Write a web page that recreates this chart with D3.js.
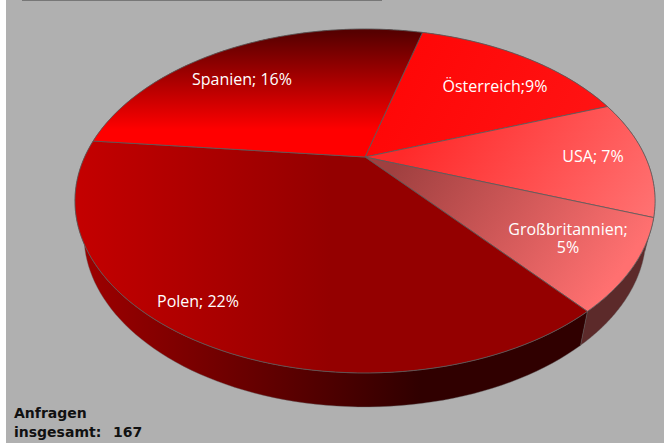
<!DOCTYPE html>
<html>
<head>
<meta charset="utf-8">
<script src="https://cdn.jsdelivr.net/npm/d3@7"></script>
<style>
  html, body { margin: 0; padding: 0; background: #fff; }
</style>
</head>
<body>
<script>
var w = 664,
    h = 443;

var countries = ["Österreich", "USA", "Großbritannien", "Polen", "Spanien"];
var percentLabels = ["9%", "7%", "5%", "22%", "16%"];
var separators = [";", "; ", ";", "; ", "; "];
// slice sizes (the labels are rounded)
var sliceValues = [9.1, 6.6, 5.0, 22.3, 16.3];
var totalLabel = "167";

var apexX = 365, apexY = 157, depth = 34;
var rx = 280.4, ry = 160.7, persp = 0.2558;

// perspective view of a flat circle, angle clockwise from the top
function project(a, shrink, dy) {
  var x = Math.sin(a), y = -Math.cos(a), k = 1 - persp * y;
  return [apexX + shrink * rx * x / k, apexY + dy + ry * y / k];
}

function arcPoints(d, shrink, dy) {
  return d3.range(0, 81).map(function(i) {
    return project(d.startAngle + (d.endAngle - d.startAngle) * i / 80, shrink, dy);
  });
}

var pie = d3.pie().sort(null)
  .startAngle(14.8 * Math.PI / 180)
  .endAngle((360 + 14.8) * Math.PI / 180);
var slices = pie(sliceValues);

var line = d3.line();

var svg = d3.select("body").append("svg")
  .attr("width", w).attr("height", h)
  .style("display", "block");

svg.append("rect").attr("x", 6).attr("y", 0).attr("width", w - 6).attr("height", h).attr("fill", "#b0b0b0");
svg.append("rect").attr("x", 22).attr("y", 0).attr("width", 360).attr("height", 1).attr("fill", "#777");

var defs = svg.append("defs");
function gradient(id, x1, y1, x2, y2, stops) {
  var g = defs.append("linearGradient").attr("id", id)
    .attr("gradientUnits", "userSpaceOnUse")
    .attr("x1", x1).attr("y1", y1).attr("x2", x2).attr("y2", y2);
  stops.forEach(function(s) {
    g.append("stop").attr("offset", s[0]).attr("stop-color", s[1]);
  });
}
gradient("gAt", 365, 30, 600, 150, [[0, "#ff0404"], [1, "#ff1414"]]);
gradient("gUsa", 430, 110, 630, 240, [[0, "#ff2a2a"], [1, "#ff7070"]]);
gradient("gGb", 400, 160, 600, 300, [[0, "#a04040"], [1, "#ff7070"]]);
gradient("gPl", 76, 0, 330, 0, [[0, "#c40000"], [1, "#940000"]]);
gradient("gEs", 0, 32, 0, 130, [[0, "#560000"], [1, "#ff0000"]]);
gradient("gWall", 76, 0, 420, 0, [[0, "#a00000"], [1, "#300000"]]);

var fills = ["url(#gAt)", "url(#gUsa)", "url(#gGb)", "url(#gPl)", "url(#gEs)"];
var wallFills = ["#5c2a2a", "#5c2a2a", "#5c2a2a", "url(#gWall)", "url(#gWall)"];

svg.selectAll("path.wall")
  .data(slices)
  .enter()
  .append("path")
  .attr("class", "wall")
  .attr("d", function(d) {
    return line(arcPoints(d, 1, 0).concat(arcPoints(d, 0.969, depth).reverse())) + "Z";
  })
  .attr("fill", function(d, i) { return wallFills[i]; })
  .attr("stroke", "#666")
  .attr("stroke-width", 0.4);

svg.selectAll("path.top")
  .data(slices)
  .enter()
  .append("path")
  .attr("class", "top")
  .attr("d", function(d) {
    return line([[apexX, apexY]].concat(arcPoints(d, 1, 0))) + "Z";
  })
  .attr("fill", function(d, i) { return fills[i]; })
  .attr("stroke", "#5a5a5a")
  .attr("stroke-width", 0.8);

var labelPos = [[495, 92], [593, 162], [568, 235], [198, 307], [242, 85]];

svg.selectAll("text.lbl")
  .data(countries)
  .enter()
  .append("text")
  .attr("class", "lbl")
  .attr("x", function(d, i) { return labelPos[i][0]; })
  .attr("y", function(d, i) { return labelPos[i][1]; })
  .attr("text-anchor", "middle")
  .attr("fill", "#fff")
  .style("font-family", "'Open Sans', sans-serif")
  .style("font-size", "16px")
  .text(function(d, i) {
    return i === 2 ? d + separators[i] : d + separators[i] + percentLabels[i];
  });

svg.append("text")
  .attr("x", labelPos[2][0]).attr("y", labelPos[2][1] + 18)
  .attr("text-anchor", "middle").attr("fill", "#fff")
  .style("font-family", "'Open Sans', sans-serif").style("font-size", "16px")
  .text(percentLabels[2]);

var note = svg.append("g")
  .style("font-family", "'DejaVu Sans', sans-serif")
  .style("font-size", "14px")
  .style("font-weight", "bold")
  .attr("fill", "#111");
note.append("text").attr("x", 14).attr("y", 418).text("Anfragen");
note.append("text").attr("x", 14).attr("y", 437).text("insgesamt:");
note.append("text").attr("x", 113).attr("y", 437).text(totalLabel);
</script>
</body>
</html>
